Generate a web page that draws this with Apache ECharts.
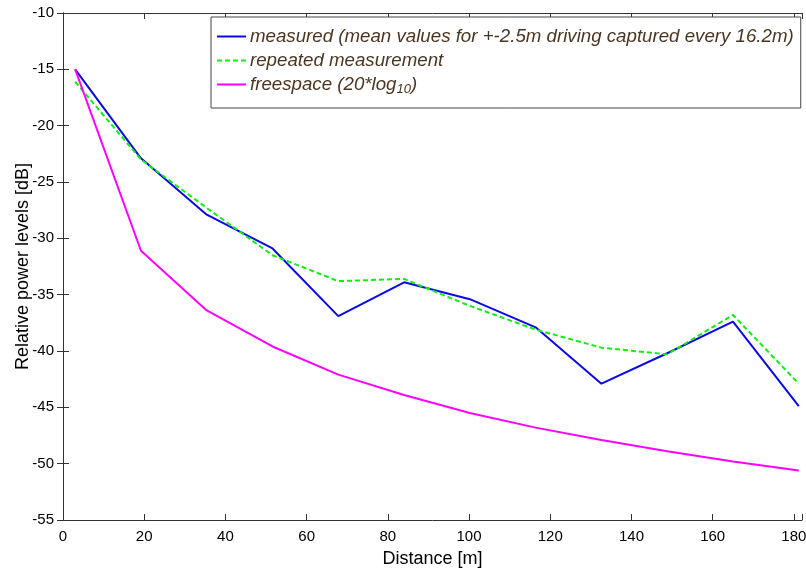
<!DOCTYPE html>
<html>
<head>
<meta charset="utf-8">
<script src="https://cdn.jsdelivr.net/npm/echarts@6/dist/echarts.min.js"></script>
<style>
  html, body { margin: 0; padding: 0; background: #fff; }
  #chart { width: 806px; height: 568px; }
</style>
</head>
<body>
<div id="chart"></div>
<script>
// distance of each measurement point [m]
var distance = [3, 19.2, 35.4, 51.6, 67.8, 84, 100.2, 116.4, 132.6, 148.8, 165, 181.2];
// relative power levels [dB]
var measured = [-15, -22.9, -27.9, -30.9, -36.9, -33.9, -35.4, -37.9, -42.9, -40.2, -37.4, -44.9];
var repeated = [-16.1, -23, -27.3, -31.5, -33.8, -33.6, -36, -38.1, -39.7, -40.3, -36.8, -42.9];
var freespace = [-15, -31.1, -36.4, -39.6, -42.1, -43.9, -45.5, -46.8, -47.9, -48.9, -49.8, -50.6];
var yTicks = [-55, -50, -45, -40, -35, -30, -25, -20, -15, -10];
var xTicks = [0, 20, 40, 60, 80, 100, 120, 140, 160, 180];

function pairs(ys) {
  var out = [];
  for (var i = 0; i < distance.length; i++) out.push([distance[i], ys[i]]);
  return out;
}

var font = 'Liberation Sans, Arial, Helvetica, sans-serif';
var axisColor = '#333';
var legendColor = '#4a3622';

var chart = echarts.init(document.getElementById('chart'));
chart.setOption({
  animation: false,
  grid: { left: 63, right: 4, top: 13, bottom: 48, containLabel: false, outerBoundsMode: 'none' },
  legend: {
    orient: 'vertical',
    left: 211,
    top: 17,
    padding: [10, 7, 12, 5],
    itemWidth: 29,
    itemHeight: 14,
    itemGap: 5,
    backgroundColor: '#fff',
    borderColor: '#444',
    borderWidth: 1,
    itemStyle: { opacity: 0, borderWidth: 0 },
    textStyle: {
      fontFamily: font, fontSize: 18.7, fontStyle: 'italic', color: legendColor, padding: [0, 0, 0, -1],
      rich: {
        sub: { fontFamily: font, fontSize: 13, fontStyle: 'italic', color: legendColor, verticalAlign: 'bottom', padding: [10, 0, 0, 0] }
      }
    },
    formatter: function (name) {
      if (name.indexOf('freespace') === 0) return 'freespace (20*log{sub|10})';
      return name;
    },
    data: [
      'measured (mean values for +-2.5m driving captured every 16.2m)',
      'repeated measurement',
      'freespace (20*log10)'
    ]
  },
  xAxis: [{
    type: 'value',
    min: 0, max: 182, interval: 20,
    name: 'Distance [m]', nameLocation: 'middle', nameGap: 30,
    nameTextStyle: { fontFamily: font, fontSize: 18, color: '#000' },
    axisLine: { show: true, lineStyle: { color: axisColor, width: 1 } },
    axisTick: { show: true, inside: true, length: 6, lineStyle: { color: axisColor } },
    axisLabel: {
      fontFamily: font, fontSize: 15, color: '#000', margin: 9,
      formatter: function (v) { return xTicks.indexOf(v) >= 0 ? String(v) : ''; }
    },
    splitLine: { show: false }
  }, {
    type: 'value', position: 'top',
    min: 0, max: 182, interval: 20,
    axisLine: { show: true, lineStyle: { color: axisColor, width: 1 } },
    axisTick: { show: true, inside: true, length: 6, lineStyle: { color: axisColor } },
    axisLabel: { show: false },
    splitLine: { show: false }
  }],
  yAxis: [{
    type: 'value',
    min: -55, max: -10, interval: 5,
    name: 'Relative power levels [dB]', nameLocation: 'middle', nameGap: 31,
    nameMoveOverlap: false,
    nameTextStyle: { fontFamily: font, fontSize: 18, color: '#000' },
    axisLine: { show: true, lineStyle: { color: axisColor, width: 1 } },
    axisTick: { show: true, inside: true, length: 6, lineStyle: { color: axisColor } },
    axisLabel: {
      fontFamily: font, fontSize: 15, color: '#000', margin: 9,
      formatter: function (v) { return yTicks.indexOf(v) >= 0 ? String(v) : ''; }
    },
    splitLine: { show: false }
  }, {
    type: 'value', position: 'right',
    min: -55, max: -10, interval: 5,
    axisLine: { show: true, lineStyle: { color: axisColor, width: 1 } },
    axisTick: { show: true, inside: true, length: 6, lineStyle: { color: axisColor } },
    axisLabel: { show: false },
    splitLine: { show: false }
  }],
  series: [{
    name: 'measured (mean values for +-2.5m driving captured every 16.2m)',
    type: 'line',
    data: pairs(measured),
    symbol: 'none',
    color: '#0a0ae6',
    lineStyle: { color: '#0a0ae6', width: 2 }
  }, {
    name: 'repeated measurement',
    type: 'line',
    data: pairs(repeated),
    symbol: 'none',
    color: '#11ee11',
    lineStyle: { color: '#11ee11', width: 2, type: [5, 3] }
  }, {
    name: 'freespace (20*log10)',
    type: 'line',
    data: pairs(freespace),
    symbol: 'none',
    color: '#ff00ff',
    lineStyle: { color: '#ff00ff', width: 2 }
  }]
});
</script>
</body>
</html>
